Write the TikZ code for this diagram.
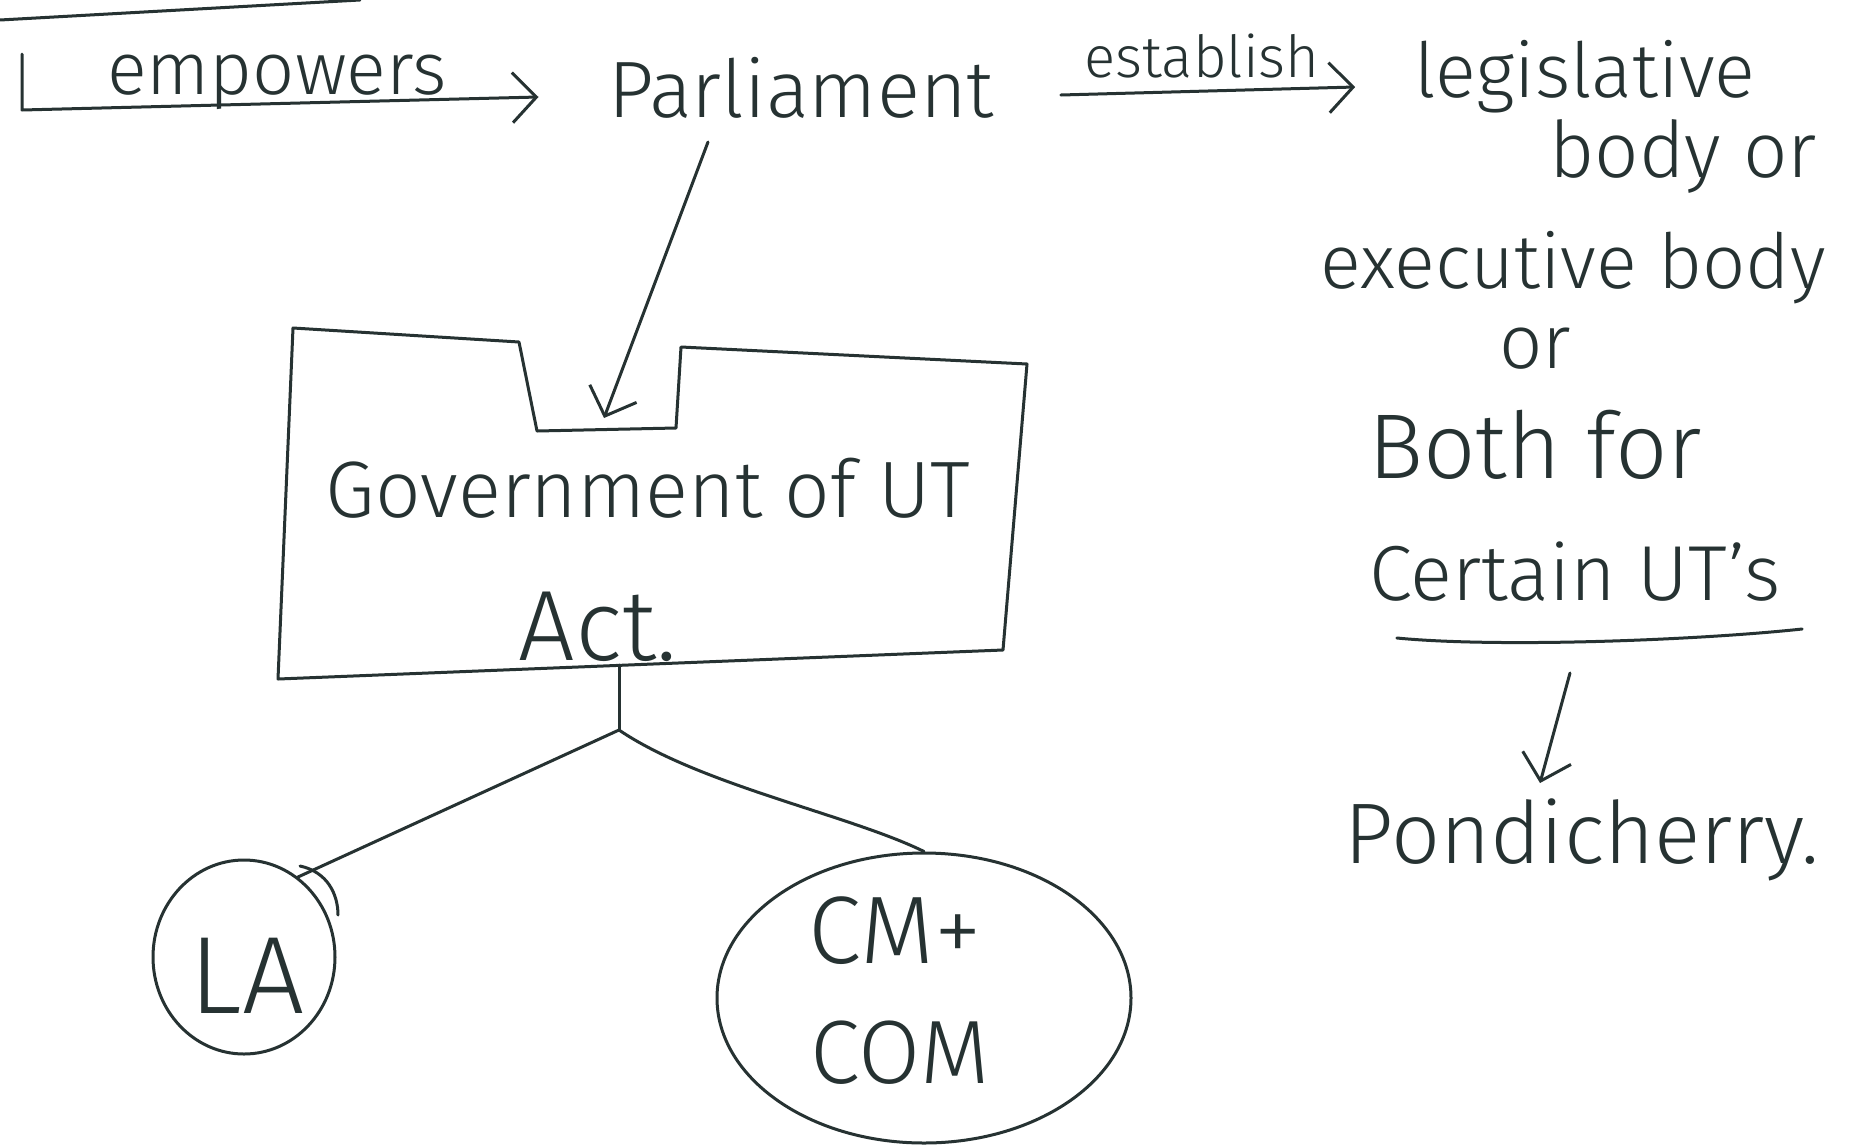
\documentclass[tikz,border=0pt]{standalone}
\usepackage{fontspec}
\setmainfont{Fira Sans Light}
\usetikzlibrary{arrows.meta,shapes.geometric,calc}
\definecolor{ink}{RGB}{38,50,50}
\begin{document}
\begin{tikzpicture}[x=1pt,y=-1pt, line width=3pt, line cap=round, line join=round,
  every path/.style={draw=ink},
  hw/.style={font=\fontsize{#1}{#1}\selectfont, inner sep=0pt, anchor=base, text=ink},
  arr/.style={-{Straight Barb[length=24pt,width=50pt]}},
  bubble/.style={draw=ink, ellipse, inner sep=0pt}]
\useasboundingbox[fill=white,draw=none] (0,0) rectangle (1851,1146);

% texts
\node[hw=74] (emp) at (277,94) {empowers};
\node[hw=80] (parl) at (801,117) {Parliament};
\node[hw=58] (est) at (1202,77) {establish};
\node[hw=76] (leg) at (1585,97) {legislative};
\node[hw=78] (body) at (1683,177) {body or};
\node[hw=76] (exe) at (1573,288) {executive body};
\node[hw=76] (or) at (1535,368) {or};
\node[hw=92] (both) at (1535,478) {Both for};
\node[hw=78] (cert) at (1575,600) {Certain UT's};
\node[hw=86] (pond) at (1582,863) {Pondicherry.};
\node[hw=80] (gov) at (648,517) {Government of UT};
\node[hw=100] (act) at (598,660) {Act.};

% bubbles
\node[bubble, minimum width=182pt, minimum height=194pt] (la) at (244,957) {};
\node[hw=110] (latext) at (247,1013) {LA};
\node[bubble, minimum width=414pt, minimum height=290pt] (cm) at (924,998) {};
\node[hw=96] (cmtext) at (895,963) {CM+};
\node[hw=90] (comtext) at (900,1083) {COM};

% top stroke
\coordinate (topA) at (0,20);
\coordinate (topB) at (360,0);
\draw (topA) -- (topB);

% empowers arrow
\coordinate (empStart) at (22,54);
\draw[arr] (empStart) -- (22,110) -- ($(parl.base west)+(-68,-20)$);

% establish arrow
\draw[arr] ($(est.base west)+(-22,18)$) -- ($(leg.base west)+(-58,-10)$);

% box with notch
\draw (293,328) -- (519,342) -- (537,431) -- (676,428) -- (681,347) -- (1027,364) -- (1003,650) -- (278,679) -- cycle;
\coordinate (notchTip) at (604,418);
\draw[arr] ($(parl.base)+(-93,25)$) -- (notchTip);

% tree
\coordinate (boxBot) at (619,665);
\coordinate (fork) at (619,730);
\draw (boxBot) -- (fork);
\draw (fork) -- (la.56);
\draw (fork) .. controls (700,785) and (850,815) .. (cm.north);
\draw (300,866) .. controls (328,872) and (338,895) .. (338,915);

% right column
\draw ($(cert.base west)+(29,38)$) .. controls (1500,648) and (1700,640) .. ($(cert.base east)+(20,29)$);
\draw[arr] ($(cert.base)+(-5,73)$) -- ($(pond.base)+(-42,-80)$);
\end{tikzpicture}
\end{document}
